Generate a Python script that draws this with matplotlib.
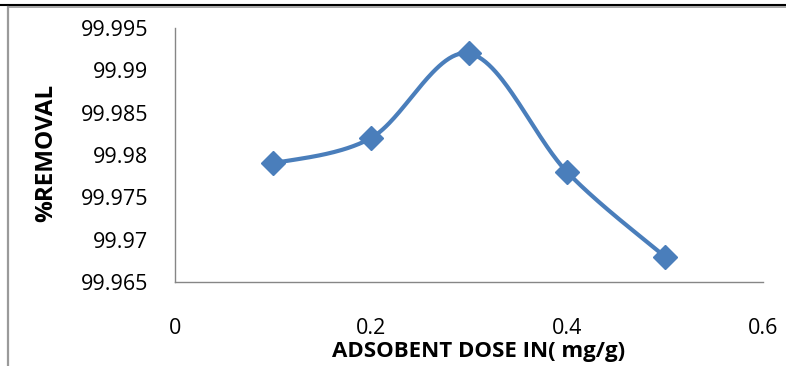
import numpy as np
import matplotlib
matplotlib.use("Agg")
import matplotlib.pyplot as plt
from matplotlib.lines import Line2D

dose = [0.1, 0.2, 0.3, 0.4, 0.5]
removal = [99.979, 99.982, 99.992, 99.978, 99.968]
x_ticks = [0, 0.2, 0.4, 0.6]
y_ticks = [99.965, 99.97, 99.975, 99.98, 99.985, 99.99, 99.995]
y_tick_labels = ["99.965", "99.97", "99.975", "99.98", "99.985", "99.99", "99.995"]
x_tick_labels = ["0", "0.2", "0.4", "0.6"]
xlabel = "ADSOBENT DOSE IN( mg/g)"
ylabel = "%REMOVAL"

W, H = 786, 366
fig = plt.figure(figsize=(W / 100, H / 100), dpi=100)
fig.patch.set_facecolor("white")
plt.rcParams["font.family"] = ["Open Sans", "DejaVu Sans"]

ax = fig.add_axes([175 / W, 1 - 282 / H, (763 - 175) / W, (282 - 28) / H])
xmin, xmax = 0, 0.6
ymin, ymax = 99.965, 99.995
ax.set_xlim(xmin, xmax)
ax.set_ylim(ymin, ymax)

# Excel-like smoothed curve (Bezier in pixel space)
axw = (763 - 175)
axh = (282 - 28)
px = (np.array(dose) - xmin) / (xmax - xmin) * axw
py = (np.array(removal) - ymin) / (ymax - ymin) * axh
P = np.column_stack([px, py])
n = len(P)
curve = []
t = np.linspace(0, 1, 60)
for i in range(n - 1):
    p0 = P[i - 1] if i > 0 else P[i]
    p1 = P[i]
    p2 = P[i + 1]
    p3 = P[i + 2] if i + 2 < n else P[i + 1]
    c1 = p1 + (p2 - p0) / 6.0
    c2 = p2 - (p3 - p1) / 6.0
    seg = ((1 - t) ** 3)[:, None] * p1 + (3 * (1 - t) ** 2 * t)[:, None] * c1 \
        + (3 * (1 - t) * t ** 2)[:, None] * c2 + (t ** 3)[:, None] * p2
    curve.append(seg)
curve = np.vstack(curve)
cx = curve[:, 0] / axw * (xmax - xmin) + xmin
cy = curve[:, 1] / axh * (ymax - ymin) + ymin

color = "#4A7EBB"
ax.plot(cx, cy, color=color, lw=3.0, solid_capstyle="round", zorder=2)
ax.plot(dose, removal, linestyle="none", marker="D", markersize=12.5,
        color=color, markeredgecolor=color, zorder=3)

for s in ["top", "right"]:
    ax.spines[s].set_visible(False)
for s in ["left", "bottom"]:
    ax.spines[s].set_color("#868686")
    ax.spines[s].set_linewidth(1.0)

ax.set_xticks(x_ticks)
ax.set_xticklabels(x_tick_labels)
ax.set_yticks(y_ticks)
ax.set_yticklabels(y_tick_labels)
ax.tick_params(axis="both", length=0, labelsize=15.5, colors="black")
ax.tick_params(axis="x", pad=26)
ax.tick_params(axis="y", pad=19)

fig.text(479 / W, 1 - 351 / H, xlabel, ha="center", va="center",
         fontsize=16, fontweight="bold")
fig.text(46 / W, 1 - 153 / H, ylabel, ha="center", va="center",
         rotation=90, fontsize=17.5, fontweight="bold")

# outer frame pieces
fig.add_artist(Line2D([0, 1], [1 - 5 / H, 1 - 5 / H], transform=fig.transFigure,
                      color="black", lw=1.5))
fig.add_artist(Line2D([7.5 / W, 1], [1 - 7 / H, 1 - 7 / H], transform=fig.transFigure,
                      color="#9a9a9a", lw=1.2))
fig.add_artist(Line2D([8 / W, 8 / W], [0, 1 - 6.5 / H], transform=fig.transFigure,
                      color="#9a9a9a", lw=1.6))

fig.savefig("out.png", dpi=100, facecolor="white")
